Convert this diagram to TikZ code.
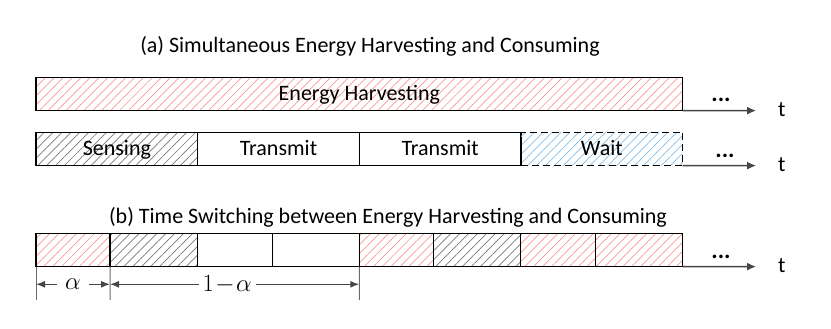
\documentclass[tikz,border=0pt]{standalone}
\usepackage{fontspec}
\setmainfont{Carlito}
\usetikzlibrary{patterns.meta,arrows.meta}
\definecolor{hred}{RGB}{250,150,150}
\definecolor{hgray}{RGB}{120,120,120}
\definecolor{hblue}{RGB}{135,190,232}
\definecolor{axisgray}{RGB}{70,70,70}

\begin{document}
\begin{tikzpicture}[x=1bp,y=-1bp,
    every node/.style={font=\fontsize{22bp}{26bp}\selectfont},
    slot/.style={draw=black,line width=1.3bp,inner sep=0pt,outer sep=0pt,minimum height=33.3bp,
      text height=14bp,text depth=0bp,anchor=north west},
    redhatch/.style={pattern={Lines[angle=45,distance=6.3bp,line width=0.7bp]},pattern color=hred},
    grayhatch/.style={pattern={Lines[angle=45,distance=6.3bp,line width=0.7bp]},pattern color=hgray},
    bluehatch/.style={pattern={Lines[angle=45,distance=6.3bp,line width=0.7bp]},pattern color=hblue},
    dots/.style={anchor=base,font=\fontsize{24bp}{28bp}\selectfont\bfseries},
    timeline/.style={draw=axisgray,line width=1.3bp,-{Latex[length=9bp,width=8bp]}},
    dim/.style={draw=axisgray!80,line width=1bp},
    dimarrow/.style={draw=axisgray,line width=1.3bp,{Latex[length=9bp,width=7bp]}-{Latex[length=9bp,width=7bp]}}]
      \useasboundingbox (0,0) rectangle (831,328);
      \node [anchor=base] (TA) at (370,52.5) {(a) Simultaneous Energy Harvesting and Consuming};
      \node [slot,redhatch,minimum width=646.7bp] (H) at (36,77.3) {Energy Harvesting};
      \coordinate (EA) at (756,110.6);
      \draw [timeline] (H.south east) -- (EA);
      \node [dots] (DA) at (721,101.5) {...};
      \node [anchor=base] (XA) at (781.7,116) {t};
      \node [slot,grayhatch,minimum width=161.7bp] (S) at (36,132.3) {Sensing};
      \node [slot,minimum width=161.6bp] (T1) at (S.north east) {Transmit};
      \node [slot,minimum width=161.7bp] (T2) at (T1.north east) {Transmit};
      \node [slot,bluehatch,dashed,dash pattern=on 7bp off 4bp,minimum width=161.7bp] (W) at (T2.north east) {Wait};
      \coordinate (EB) at (756,165.6);
      \draw [timeline] (W.south east) -- (EB);
      \node [dots] (DB) at (725,157.5) {...};
      \node [anchor=base] (XB) at (781.7,171.7) {t};
      \node [anchor=base] (TB) at (388,223.3) {(b) Time Switching between Energy Harvesting and Consuming};
      \node [slot,redhatch,minimum width=74bp] (C1) at (36,233.3) {};
      \node [slot,grayhatch,minimum width=87.7bp] (C2) at (C1.north east) {};
      \node [slot,minimum width=75bp] (C3) at (C2.north east) {};
      \node [slot,minimum width=86.6bp] (C4) at (C3.north east) {};
      \node [slot,redhatch,minimum width=74bp] (C5) at (C4.north east) {};
      \node [slot,grayhatch,minimum width=87.4bp] (C6) at (C5.north east) {};
      \node [slot,redhatch,minimum width=74.6bp] (C7) at (C6.north east) {};
      \node [slot,redhatch,minimum width=87.4bp] (C8) at (C7.north east) {};
      \coordinate (EC) at (756,266.6);
      \draw [timeline] (C8.south east) -- (EC);
      \node [dots] (DC) at (721,258.5) {...};
      \node [anchor=base] (XC) at (781.7,272.7) {t};
      \coordinate (K0) at (36,300);
      \coordinate (K1) at (110,300);
      \coordinate (K2) at (359.3,300);
      \draw [dim] (C1.south west) -- (K0);
      \draw [dim] (C2.south west) -- (K1);
      \draw [dim] (C5.south west) -- (K2);
      \coordinate (M0) at (36,284.3);
      \coordinate (M1) at (110,284.3);
      \coordinate (M2) at (359.3,284.3);
      \draw [dimarrow] (M0) -- node [fill=white,inner xsep=8bp,inner ysep=0pt,font=\fontsize{30bp}{34bp}\selectfont] (AL) {$\alpha$} (M1);
      \draw [dimarrow] (M1) -- node [pos=0.47,fill=white,inner xsep=4bp,inner ysep=0pt,font=\fontsize{27bp}{31bp}\selectfont] (BL) {$1\!-\!\alpha$} (M2);
    \end{tikzpicture}
\end{document}
